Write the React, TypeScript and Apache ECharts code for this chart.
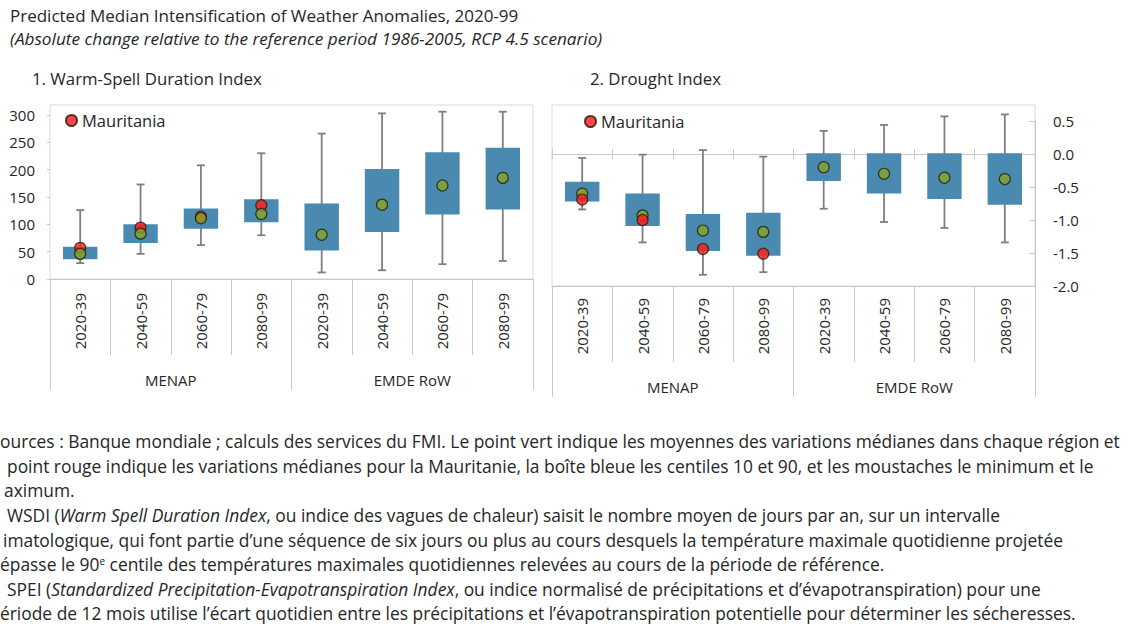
import React, { useEffect, useRef } from 'react';
import * as echarts from 'echarts';

const periods = ['2020-39', '2040-59', '2060-79', '2080-99', '2020-39', '2040-59', '2060-79', '2080-99'];
const regions = ['MENAP', 'EMDE RoW'];

// 1. Warm-Spell Duration Index
const wsdiMin = [29, 46, 62, 80, 12, 16, 27, 33];
const wsdiP10 = [36, 66, 92, 104, 52, 86, 118, 127];
const wsdiP90 = [59, 100, 129, 146, 138, 201, 232, 240];
const wsdiMax = [126, 173, 208, 230, 266, 303, 306, 306];
const wsdiMean = [46, 83, 111, 119, 81, 136, 171, 185];
const wsdiMauritania = [57, 94, 114, 135, null, null, null, null];

// 2. Drought Index
const speiMin = [-0.84, -1.34, -1.83, -1.79, -0.83, -1.03, -1.12, -1.34];
const speiP10 = [-0.72, -1.09, -1.47, -1.54, -0.41, -0.6, -0.68, -0.77];
const speiP90 = [-0.42, -0.6, -0.91, -0.89, 0.01, 0.01, 0.01, 0.01];
const speiMax = [-0.06, -0.01, 0.06, -0.04, 0.35, 0.44, 0.57, 0.6];
const speiMean = [-0.6, -0.93, -1.16, -1.18, -0.2, -0.3, -0.36, -0.38];
const speiMauritania = [-0.69, -1.0, -1.44, -1.51, null, null, null, null];

const title = 'Predicted Median Intensification of Weather Anomalies, 2020-99';
const subtitle = '(Absolute change relative to the reference period 1986-2005, RCP 4.5 scenario)';
const panel1 = '1. Warm-Spell Duration Index';
const panel2 = '2. Drought Index';
const legendName = 'Mauritania';

// footnote lines, as far as they are visible (the left edge is cut in the source)
const notes = [
  'ources : Banque mondiale ; calculs des services du FMI. Le point vert indique les moyennes des variations médianes dans chaque région et',
  'point rouge indique les variations médianes pour la Mauritanie, la boîte bleue les centiles 10 et 90, et les moustaches le minimum et le',
  'aximum.',
  'WSDI ({i|Warm Spell Duration Index}, ou indice des vagues de chaleur) saisit le nombre moyen de jours par an, sur un intervalle',
  'imatologique, qui font partie d’une séquence de six jours ou plus au cours desquels la température maximale quotidienne projetée',
  'épasse le 90{s|e} centile des températures maximales quotidiennes relevées au cours de la période de référence.',
  'SPEI ({i|Standardized Precipitation-Evapotranspiration Index}, ou indice normalisé de précipitations et d’évapotranspiration) pour une',
  'ériode de 12 mois utilise l’écart quotidien entre les précipitations et l’évapotranspiration potentielle pour déterminer les sécheresses.',
];
const noteX = [0, 7, 4, 7, 3, 0, 7, 0];
const noteY = [441, 466, 490, 515, 540, 564, 589, 613];

const FONT = "'Open Sans', 'Noto Sans', sans-serif";
const TXT = '#262626';
const BOX = '#4a8ab0';
const WHISK = '#7f7f7f';
const RED = '#ff1a1a';
const GREEN = '#85a52b';
const LINE = '#c8c8c8';
const NOTE_FS = 17.4;

function boxData(mn: number[], p10: number[], p90: number[], mx: number[]) {
  return mn.map((v, i) => [i, v, p10[i], p90[i], mx[i]]);
}

const renderBox = (params: any, api: any) => {
  const x = api.value(0);
  const lo = api.coord([x, api.value(1)]);
  const b = api.coord([x, api.value(2)]);
  const t = api.coord([x, api.value(3)]);
  const hi = api.coord([x, api.value(4)]);
  const bw = api.size([1, 0])[0] * 0.57;
  const cap = 4;
  const ls = { stroke: WHISK, lineWidth: 1.8 };
  return {
    type: 'group',
    children: [
      { type: 'line', shape: { x1: lo[0], y1: lo[1], x2: hi[0], y2: hi[1] }, style: ls },
      { type: 'line', shape: { x1: lo[0] - cap, y1: lo[1], x2: lo[0] + cap, y2: lo[1] }, style: ls },
      { type: 'line', shape: { x1: hi[0] - cap, y1: hi[1], x2: hi[0] + cap, y2: hi[1] }, style: ls },
      { type: 'rect', shape: { x: t[0] - bw / 2, y: t[1], width: bw, height: b[1] - t[1] }, style: { fill: BOX } },
    ],
  };
};

const dot = (color: string) => ({ color, borderColor: '#2b1a00', borderWidth: 1.2 });

const catAxis = (gridIndex: number, margin: number) => ({
  type: 'category',
  gridIndex,
  data: periods,
  boundaryGap: true,
  axisLine: { show: true, onZero: false, lineStyle: { color: LINE, width: 1 } },
  axisTick: { show: true, length: 76, lineStyle: { color: LINE } },
  axisLabel: { interval: 0, rotate: 90, margin, fontSize: 15, fontFamily: FONT, color: TXT },
});

const groupAxis = (gridIndex: number) => ({
  type: 'category',
  gridIndex,
  data: regions,
  position: 'bottom',
  boundaryGap: true,
  axisLine: { show: false, onZero: false },
  axisTick: { show: true, length: 111, lineStyle: { color: LINE } },
  axisLabel: { interval: 0, margin: 93, fontSize: 15, fontFamily: FONT, color: TXT },
});

const zeroAxis = (position: string) => ({
  type: 'category',
  gridIndex: 1,
  data: periods,
  position,
  boundaryGap: true,
  axisLine: { show: true, onZero: true, onZeroAxisIndex: 1, lineStyle: { color: LINE } },
  axisTick: { show: true, length: 5, lineStyle: { color: LINE } },
  axisLabel: { show: false },
});

const textEl = (text: string, x: number, y: number, fontSize: number, extra: any = {}) => ({
  type: 'text',
  x,
  y,
  silent: true,
  style: {
    text,
    fontSize,
    lineHeight: Math.round(fontSize),
    fontFamily: FONT,
    fill: TXT,
    align: 'left',
    verticalAlign: 'middle',
    ...extra,
  },
});

const richStyles = {
  i: { fontSize: NOTE_FS, lineHeight: 17, fontFamily: FONT, fontStyle: 'italic', fill: TXT },
  s: { fontSize: 10, fontFamily: FONT, fill: TXT, verticalAlign: 'top' },
};

export default function App() {
  const ref = useRef<HTMLDivElement>(null);
  useEffect(() => {
    if (!ref.current) return;
    const chart = echarts.init(ref.current, undefined, { renderer: 'svg' });
    const legendBase = {
      data: [legendName], padding: 0, icon: 'circle', itemWidth: 11, itemHeight: 11, itemGap: 0,
      selectedMode: false, textStyle: { fontSize: 16.5, fontFamily: FONT, color: TXT },
    };
    const option: any = {
      animation: false,
      backgroundColor: '#ffffff',
      textStyle: { fontFamily: FONT },
      grid: [
        { left: 50, top: 115, width: 483, height: 164 },
        { left: 552, top: 121, width: 483, height: 165 },
      ],
      legend: [
        { ...legendBase, left: 65, top: 112 },
        { ...legendBase, left: 584, top: 113 },
      ],
      xAxis: [
        catAxis(0, 14),
        groupAxis(0),
        catAxis(1, 12),
        groupAxis(1),
        zeroAxis('bottom'),
        zeroAxis('top'),
      ],
      yAxis: [
        {
          type: 'value', gridIndex: 0, min: 0, max: 300, interval: 50,
          axisLine: { show: false },
          axisTick: { show: true, length: 3, lineStyle: { color: LINE } },
          splitLine: { show: false },
          axisLabel: { margin: 15, fontSize: 15, fontFamily: FONT, color: TXT },
        },
        {
          type: 'value', gridIndex: 1, position: 'right', min: -2, max: 0.5, interval: 0.5,
          axisLine: { show: true, onZero: false, lineStyle: { color: LINE } },
          axisTick: { show: true, inside: true, length: 6, lineStyle: { color: LINE } },
          splitLine: { show: false },
          axisLabel: {
            margin: 18, fontSize: 15, fontFamily: FONT, color: TXT,
            formatter: (v: number) => v.toFixed(1),
          },
        },
      ],
      graphic: [
        { type: 'rect', z: -10, silent: true, shape: { x: 50, y: 105, width: 483, height: 174 }, style: { fill: 'none', stroke: '#d9d9d9', lineWidth: 1 } },
        { type: 'rect', z: -10, silent: true, shape: { x: 552, y: 105, width: 483, height: 181 }, style: { fill: 'none', stroke: '#d9d9d9', lineWidth: 1 } },
        textEl(title, 10, 15, 17),
        textEl(subtitle, 10, 38, 17.2, { fontStyle: 'italic' }),
        textEl(panel1, 32, 78, 16.8),
        textEl(panel2, 590, 78, 16.8),
        ...notes.map((n, k) => textEl(n, noteX[k], noteY[k], NOTE_FS, { rich: richStyles })),
      ],
      series: [
        {
          type: 'custom', name: 'box1', xAxisIndex: 0, yAxisIndex: 0,
          data: boxData(wsdiMin, wsdiP10, wsdiP90, wsdiMax),
          encode: { x: 0, y: [1, 2, 3, 4] },
          renderItem: renderBox, z: 2,
        },
        {
          type: 'scatter', name: legendName, xAxisIndex: 0, yAxisIndex: 0,
          data: wsdiMauritania.map((v) => (v == null ? '-' : v)),
          symbolSize: 11, itemStyle: dot(RED), z: 3,
        },
        {
          type: 'scatter', name: 'Mean', xAxisIndex: 0, yAxisIndex: 0,
          data: wsdiMean, symbolSize: 11, itemStyle: dot(GREEN), z: 4,
        },
        {
          type: 'custom', name: 'box2', xAxisIndex: 2, yAxisIndex: 1,
          data: boxData(speiMin, speiP10, speiP90, speiMax),
          encode: { x: 0, y: [1, 2, 3, 4] },
          renderItem: renderBox, z: 2,
        },
        {
          type: 'scatter', name: 'Mean2', xAxisIndex: 2, yAxisIndex: 1,
          data: speiMean, symbolSize: 11, itemStyle: dot(GREEN), z: 3,
        },
        {
          type: 'scatter', name: legendName, xAxisIndex: 2, yAxisIndex: 1,
          data: speiMauritania.map((v) => (v == null ? '-' : v)),
          symbolSize: 11, itemStyle: dot(RED), z: 4,
        },
      ],
    };
    chart.setOption(option);
    return () => chart.dispose();
  }, []);
  return (
    <div
      ref={ref}
      style={{ position: 'fixed', left: 0, top: 0, width: 1130, height: 643, background: '#fff' }}
    />
  );
}
